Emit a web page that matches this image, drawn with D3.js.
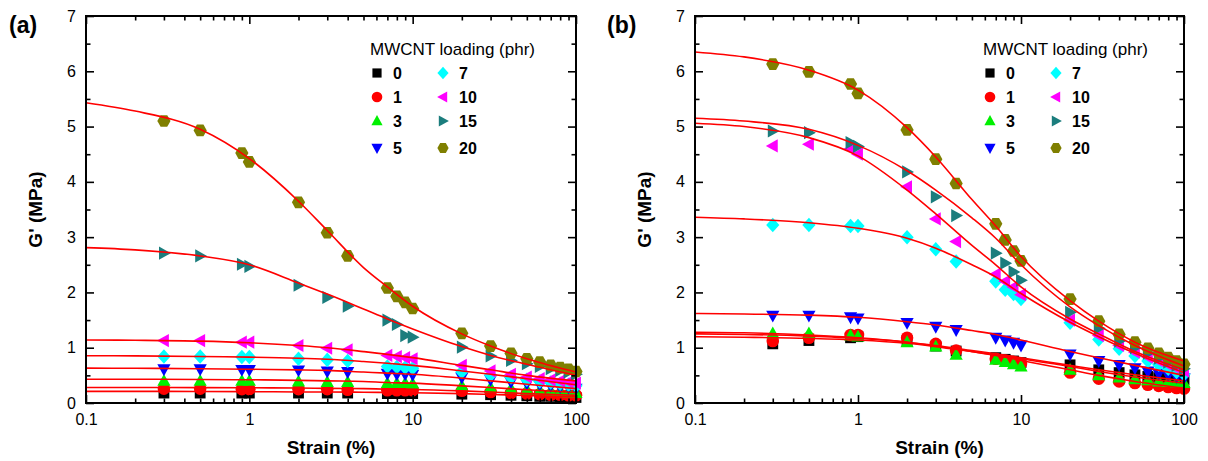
<!DOCTYPE html>
<html>
<head>
<meta charset="utf-8">
<script src="https://cdn.jsdelivr.net/npm/d3@7"></script>
<style>
  body { margin: 0; background: #fff; }
  svg { display: block; }
  text { font-family: Arial, "Liberation Sans", sans-serif; fill: #000; }
</style>
</head>
<body>
<svg id="chart" width="1208" height="461"></svg>
<script>
// MWCNT loadings (phr) and their marker styles
const loadings = ["0", "1", "3", "5", "7", "10", "15", "20"];
const seriesColors = ["#000000", "#ff0000", "#00f000", "#0000ff", "#00ffff", "#ff00ff", "#1b7d7d", "#7f7f00"];
const markerShapes = ["square", "circle", "triangleUp", "triangleDown", "diamond", "triangleLeft", "triangleRight", "hexagon"];

// Strain amplitudes (%) of the measured points
const strains = [0.3, 0.5, 0.9, 1, 2, 3, 4, 7, 8, 9, 10, 20, 30, 40, 50, 60, 70, 80, 90, 100];
// Strain knots of the fitted curves (%)
const fitStrains = [0.1, 0.2, 0.5, 1, 2, 3, 5, 7, 10, 20, 30, 50, 100];

// Axis ticks
const xMajorTicks = [0.1, 1, 10, 100];
const xTickLabels = ["0.1", "1", "10", "100"];
const yMajorTicks = [0, 1, 2, 3, 4, 5, 6, 7];

// Panel (a): G' (MPa), one row per loading
const measuredA = [
  [0.18, 0.18, 0.18, 0.18, 0.18, 0.18, 0.18, 0.17, 0.17, 0.17, 0.17, 0.16, 0.15, 0.14, 0.13, 0.12, 0.12, 0.11, 0.11, 0.10],
  [0.26, 0.26, 0.25, 0.25, 0.25, 0.25, 0.24, 0.23, 0.23, 0.23, 0.23, 0.22, 0.20, 0.18, 0.17, 0.16, 0.15, 0.15, 0.14, 0.14],
  [0.40, 0.40, 0.40, 0.40, 0.39, 0.38, 0.38, 0.36, 0.36, 0.36, 0.35, 0.31, 0.28, 0.26, 0.24, 0.22, 0.21, 0.20, 0.19, 0.18],
  [0.61, 0.61, 0.60, 0.60, 0.59, 0.57, 0.56, 0.53, 0.52, 0.52, 0.51, 0.46, 0.42, 0.38, 0.35, 0.33, 0.31, 0.29, 0.28, 0.26],
  [0.84, 0.84, 0.83, 0.83, 0.80, 0.78, 0.76, 0.66, 0.65, 0.64, 0.63, 0.56, 0.50, 0.46, 0.42, 0.39, 0.37, 0.35, 0.33, 0.31],
  [1.13, 1.13, 1.10, 1.10, 1.04, 0.99, 0.96, 0.86, 0.84, 0.82, 0.80, 0.68, 0.58, 0.52, 0.47, 0.44, 0.42, 0.40, 0.38, 0.36],
  [2.71, 2.66, 2.51, 2.47, 2.13, 1.91, 1.75, 1.50, 1.42, 1.22, 1.19, 1.01, 0.85, 0.77, 0.71, 0.66, 0.62, 0.59, 0.56, 0.52],
  [5.10, 4.93, 4.52, 4.36, 3.63, 3.08, 2.66, 2.08, 1.93, 1.82, 1.71, 1.26, 1.03, 0.90, 0.80, 0.74, 0.68, 0.64, 0.61, 0.57]
];
const fitA = [
  [0.21, 0.21, 0.208, 0.205, 0.20, 0.198, 0.195, 0.19, 0.185, 0.17, 0.155, 0.135, 0.11],
  [0.28, 0.28, 0.278, 0.275, 0.27, 0.265, 0.26, 0.25, 0.245, 0.22, 0.20, 0.17, 0.14],
  [0.43, 0.43, 0.425, 0.42, 0.41, 0.40, 0.39, 0.37, 0.36, 0.31, 0.28, 0.24, 0.19],
  [0.63, 0.628, 0.62, 0.61, 0.60, 0.59, 0.56, 0.54, 0.52, 0.45, 0.40, 0.34, 0.26],
  [0.855, 0.852, 0.84, 0.83, 0.81, 0.79, 0.75, 0.72, 0.68, 0.58, 0.52, 0.44, 0.33],
  [1.14, 1.135, 1.12, 1.09, 1.04, 1.00, 0.93, 0.88, 0.82, 0.68, 0.60, 0.50, 0.40],
  [2.81, 2.77, 2.66, 2.50, 2.17, 1.97, 1.70, 1.52, 1.34, 1.02, 0.86, 0.70, 0.50],
  [5.43, 5.28, 4.95, 4.42, 3.65, 3.12, 2.45, 2.10, 1.75, 1.25, 1.03, 0.80, 0.56]
];

// Panel (b): G' (MPa), one row per loading
const measuredB = [
  [1.07, 1.13, 1.18, 1.20, 1.13, 1.03, 0.94, 0.82, 0.79, 0.76, 0.73, 0.69, 0.60, 0.55, 0.51, 0.48, 0.46, 0.44, 0.43, 0.42],
  [1.12, 1.18, 1.23, 1.23, 1.18, 1.07, 0.95, 0.80, 0.77, 0.74, 0.71, 0.55, 0.44, 0.39, 0.36, 0.33, 0.31, 0.29, 0.27, 0.26],
  [1.26, 1.26, 1.22, 1.20, 1.10, 1.02, 0.87, 0.78, 0.74, 0.70, 0.66, 0.60, 0.50, 0.46, 0.43, 0.41, 0.39, 0.38, 0.37, 0.36],
  [1.58, 1.58, 1.55, 1.53, 1.45, 1.38, 1.32, 1.18, 1.13, 1.09, 1.04, 0.88, 0.76, 0.69, 0.63, 0.57, 0.53, 0.50, 0.47, 0.45],
  [3.22, 3.22, 3.20, 3.20, 3.00, 2.78, 2.56, 2.20, 2.05, 1.97, 1.88, 1.45, 1.15, 0.98, 0.85, 0.76, 0.69, 0.62, 0.56, 0.52],
  [4.65, 4.68, 4.60, 4.50, 3.91, 3.33, 2.92, 2.33, 2.20, 2.10, 1.96, 1.50, 1.22, 1.04, 0.92, 0.83, 0.76, 0.69, 0.63, 0.58],
  [4.92, 4.89, 4.71, 4.64, 4.18, 3.73, 3.39, 2.71, 2.53, 2.37, 2.22, 1.64, 1.35, 1.12, 1.00, 0.90, 0.81, 0.74, 0.68, 0.62],
  [6.13, 5.99, 5.77, 5.60, 4.94, 4.41, 3.97, 3.24, 2.95, 2.75, 2.57, 1.88, 1.48, 1.24, 1.10, 0.99, 0.90, 0.82, 0.76, 0.70]
];
const fitB = [
  [1.25, 1.24, 1.21, 1.17, 1.10, 1.04, 0.95, 0.89, 0.82, 0.68, 0.60, 0.51, 0.40],
  [1.28, 1.27, 1.23, 1.18, 1.10, 1.03, 0.93, 0.86, 0.77, 0.60, 0.50, 0.39, 0.27],
  [1.20, 1.19, 1.17, 1.14, 1.08, 1.02, 0.93, 0.87, 0.80, 0.66, 0.57, 0.47, 0.36],
  [1.62, 1.61, 1.59, 1.55, 1.47, 1.41, 1.31, 1.24, 1.14, 0.93, 0.82, 0.68, 0.50],
  [3.36, 3.33, 3.26, 3.16, 2.98, 2.80, 2.50, 2.28, 1.98, 1.46, 1.20, 0.90, 0.55],
  [5.06, 5.00, 4.80, 4.47, 3.85, 3.42, 2.85, 2.50, 2.10, 1.52, 1.25, 0.93, 0.60],
  [5.15, 5.10, 4.95, 4.66, 4.20, 3.85, 3.35, 2.98, 2.50, 1.74, 1.40, 1.04, 0.67],
  [6.35, 6.26, 6.02, 5.66, 4.98, 4.45, 3.68, 3.20, 2.65, 1.85, 1.48, 1.10, 0.76]
];

const svg = d3.select("#chart");

// Marker outline for a shape of half-width r, centred at the origin
function markerPath(shape, r) {
  const p = d3.path();
  const poly = pts => { pts.forEach((q, i) => i ? p.lineTo(q[0], q[1]) : p.moveTo(q[0], q[1])); p.closePath(); };
  switch (shape) {
    case "square": { const s = r * 0.82; poly([[-s, -s], [s, -s], [s, s], [-s, s]]); break; }
    case "circle": p.arc(0, 0, r * 0.95, 0, 2 * Math.PI); p.closePath(); break;
    case "triangleUp": poly([[0, -r * 1.05], [r, r * 0.75], [-r, r * 0.75]]); break;
    case "triangleDown": poly([[0, r * 1.05], [r, -r * 0.75], [-r, -r * 0.75]]); break;
    case "triangleLeft": poly([[-r * 1.05, 0], [r * 0.75, -r], [r * 0.75, r]]); break;
    case "triangleRight": poly([[r * 1.05, 0], [-r * 0.75, -r], [-r * 0.75, r]]); break;
    case "diamond": poly([[0, -r * 1.1], [r * 1.0, 0], [0, r * 1.1], [-r * 1.0, 0]]); break;
    case "hexagon": {
      const pts = d3.range(6).map(k => { const a = Math.PI / 3 * k; return [r * Math.cos(a), r * 1.02 * Math.sin(a)]; });
      poly(pts); break;
    }
  }
  return p.toString();
}

function drawPanel(cfg) {
  const x = d3.scaleLog().domain([0.1, 100]).range([cfg.left, cfg.right]);
  const y = d3.scaleLinear().domain([0, 7]).range([cfg.bottom, cfg.top]);
  const g = svg.append("g");

  const xMinor = [];
  [0.1, 1, 10].forEach(d => { for (let k = 2; k <= 9; k++) xMinor.push(d * k); });
  const yMinor = d3.range(0.5, 7, 1);

  // Markers, drawn in order of loading
  cfg.measured.forEach((vals, si) => {
    const path = markerPath(markerShapes[si], 6.6);
    g.append("g").selectAll("path")
      .data(strains.map((s, i) => [s, vals[i]]))
      .join("path")
      .attr("d", path)
      .attr("transform", d => `translate(${x(d[0])},${y(d[1])})`)
      .attr("fill", seriesColors[si]);
  });

  // Fitted curves on top of the markers
  const line = d3.line().x(d => x(d[0])).y(d => y(d[1])).curve(d3.curveMonotoneX);
  cfg.fit.forEach(vals => {
    g.append("path")
      .datum(fitStrains.map((s, i) => [s, vals[i]]))
      .attr("d", line)
      .attr("fill", "none")
      .attr("stroke", "#ff0000")
      .attr("stroke-width", 1.6);
  });

  // Axes with inward ticks, mirrored on top and right
  const styleAxis = sel => {
    sel.select(".domain").remove();
    sel.selectAll("line").attr("stroke", "#000").attr("stroke-width", 1.6);
    sel.selectAll("text").attr("font-size", 16).attr("font-family", 'Arial, "Liberation Sans", sans-serif');
  };
  g.append("g").attr("transform", `translate(0,${cfg.bottom})`)
    .call(d3.axisBottom(x).tickValues(xMajorTicks).tickFormat((d, i) => xTickLabels[i]).tickSize(-8).tickPadding(11))
    .call(styleAxis);
  g.append("g").attr("transform", `translate(0,${cfg.bottom})`)
    .call(d3.axisBottom(x).tickValues(xMinor).tickFormat("").tickSize(-4.5)).call(styleAxis);
  g.append("g").attr("transform", `translate(0,${cfg.top})`)
    .call(d3.axisTop(x).tickValues(xMajorTicks).tickFormat("").tickSize(-8)).call(styleAxis);
  g.append("g").attr("transform", `translate(0,${cfg.top})`)
    .call(d3.axisTop(x).tickValues(xMinor).tickFormat("").tickSize(-4.5)).call(styleAxis);

  g.append("g").attr("transform", `translate(${cfg.left},0)`)
    .call(d3.axisLeft(y).tickValues(yMajorTicks).tickFormat(d3.format("d")).tickSize(-8).tickPadding(10))
    .call(styleAxis);
  g.append("g").attr("transform", `translate(${cfg.left},0)`)
    .call(d3.axisLeft(y).tickValues(yMinor).tickFormat("").tickSize(-4.5)).call(styleAxis);
  g.append("g").attr("transform", `translate(${cfg.right},0)`)
    .call(d3.axisRight(y).tickValues(yMajorTicks).tickFormat("").tickSize(-8)).call(styleAxis);
  g.append("g").attr("transform", `translate(${cfg.right},0)`)
    .call(d3.axisRight(y).tickValues(yMinor).tickFormat("").tickSize(-4.5)).call(styleAxis);

  // Frame
  g.append("rect")
    .attr("x", cfg.left).attr("y", cfg.top)
    .attr("width", cfg.right - cfg.left).attr("height", cfg.bottom - cfg.top)
    .attr("fill", "none").attr("stroke", "#000").attr("stroke-width", 2);

  // Axis titles and panel tag
  g.append("text")
    .attr("x", (cfg.left + cfg.right) / 2).attr("y", 454)
    .attr("text-anchor", "middle").attr("font-size", 19).attr("font-weight", "bold")
    .text("Strain (%)");
  g.append("text")
    .attr("transform", `translate(${cfg.left - 44},${(cfg.top + cfg.bottom) / 2}) rotate(-90)`)
    .attr("text-anchor", "middle").attr("font-size", 19).attr("font-weight", "bold")
    .text("G' (MPa)");
  g.append("text")
    .attr("x", cfg.tagX).attr("y", 33)
    .attr("font-size", 23).attr("font-weight", "bold")
    .text(cfg.tag);

  // Legend
  const lg = g.append("g").attr("transform", `translate(${cfg.legendX},0)`);
  lg.append("text").attr("x", 0).attr("y", 55).attr("font-size", 17).text("MWCNT loading (phr)");
  const rowY = [73, 97, 121, 148];
  loadings.forEach((name, i) => {
    const col = Math.floor(i / 4), row = i % 4;
    const sx = 7 + col * 66, sy = rowY[row];
    lg.append("path")
      .attr("d", markerPath(markerShapes[i], 5.6))
      .attr("transform", `translate(${sx},${sy})`)
      .attr("fill", seriesColors[i]);
    lg.append("text")
      .attr("x", sx + 16).attr("y", sy + 6)
      .attr("font-size", 16).attr("font-weight", "bold")
      .text(name);
  });
}

drawPanel({ left: 86, right: 576, top: 16, bottom: 403, measured: measuredA, fit: fitA, tag: "(a)", tagX: 9, legendX: 370 });
drawPanel({ left: 695, right: 1184, top: 16, bottom: 403, measured: measuredB, fit: fitB, tag: "(b)", tagX: 607, legendX: 983 });
</script>
</body>
</html>
